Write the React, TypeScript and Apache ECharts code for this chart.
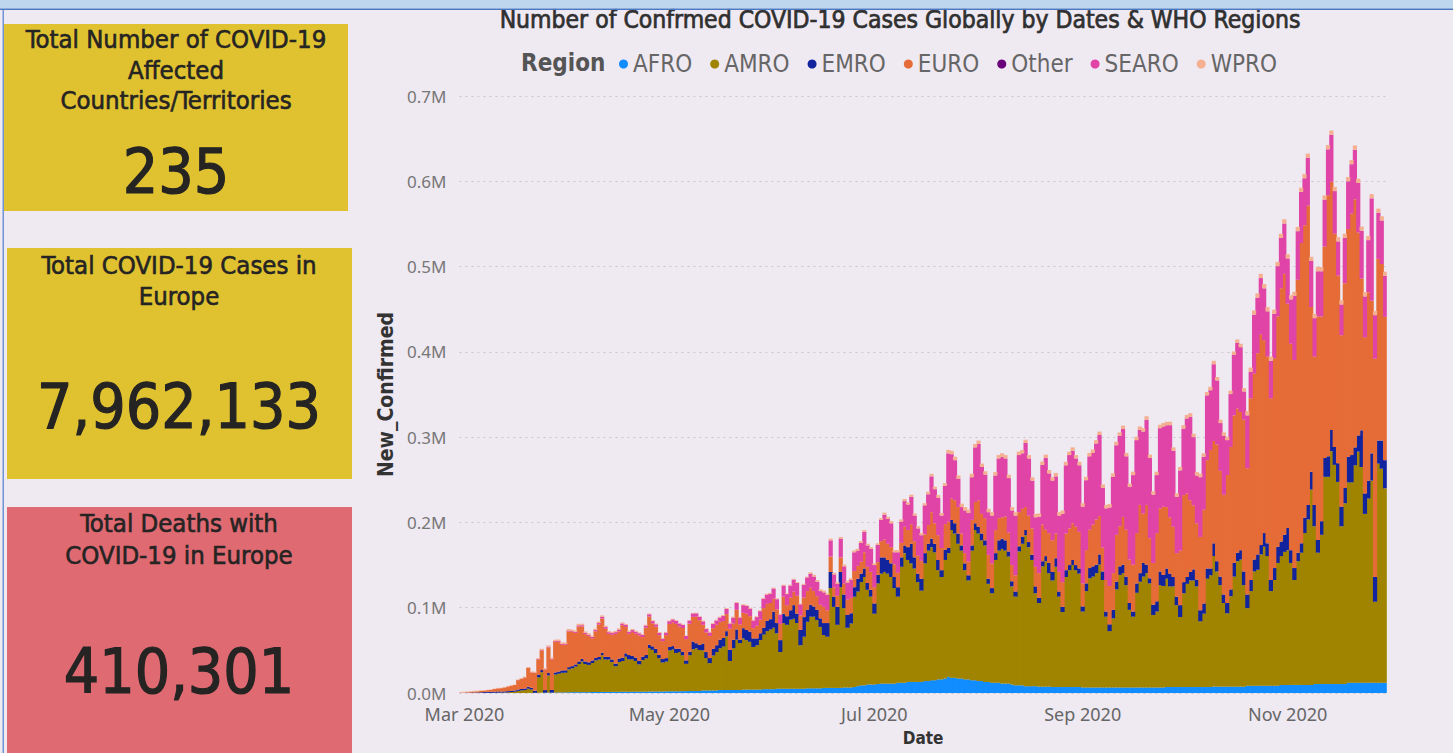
import React, { useEffect, useRef } from 'react';
import * as echarts from 'echarts';

// ---------- categories & ticks ----------
const startDate = '2020-02-29';
const dayCount = 276;
const tickDates = ['2020-03-01', '2020-05-01', '2020-07-01', '2020-09-01', '2020-11-01'];
const tickLabels = ['Mar 2020', 'May 2020', 'Jul 2020', 'Sep 2020', 'Nov 2020'];

const regions = ['AFRO', 'AMRO', 'EMRO', 'EURO', 'Other', 'SEARO', 'WPRO'];
const regionColors = ['#118DFF', '#A08400', '#12239E', '#E66C37', '#6B007B', '#E044A7', '#F4B090'];

// ---------- daily new confirmed cases, thousands ----------
const afro = [
  0, 0, 0, 0, 0, 0, 0, 0, 0, 0, 0, 0, 0, 0, 0, 0, 0, 0, 0, 0,
  0.1, 0.1, 0.2, 0.3, 0.4, 0.4, 0.5, 0.5, 0.6, 0.6, 0.7, 0.8, 0.8, 1, 1, 1, 1, 1, 1, 1.2,
  1.2, 1.2, 1.3, 1.3, 1.3, 1.3, 1.4, 1.4, 1.5, 1.5, 1.5, 1.5, 1.5, 1.6, 1.6, 1.6, 1.7, 1.7, 1.8, 1.8,
  1.8, 1.9, 2, 2, 2, 2, 2.2, 2.2, 2.3, 2.3, 2.4, 2.4, 3,
  3, 3, 3, 3, 3.5, 3.5, 3.5, 3.5, 3.5, 3.5, 3.5, 4, 4, 4, 4, 4, 4, 4.5, 4.5, 4.5,
  4.5, 5, 5, 5, 5, 5, 5, 5, 5, 5, 5.5, 5.5, 5.5, 5.5, 5.5, 6, 6, 6, 6, 6,
  6, 6.5, 6.5, 6.5, 7, 8, 9, 9, 10, 10, 10, 10.5, 11, 11, 11, 11, 11, 12, 12, 12,
  13, 13, 13, 13, 13, 14, 14, 15, 15, 16, 16, 17,
  19, 18, 18, 17, 17, 16, 16, 15, 15, 14, 14, 13, 13, 12, 12, 12, 11, 11, 11, 10,
  9, 9, 9, 8, 8, 8, 8, 7.5, 7.5, 7.5, 7.5, 7, 7, 7, 7, 7, 7, 7, 7, 7,
  6.5, 6.5, 6.5, 6.5, 6.5, 6.5, 6.5, 6.5, 6.5, 6.5, 6.5, 6.5, 6.5, 6.5, 6.5, 6.5, 6.5, 6.5, 6.5, 6.5,
  6.5, 6.5, 6.5, 6.5, 6.5, 7, 7, 7, 7,
  7, 7, 7, 7, 7, 7, 7, 7, 7, 7, 7.5, 7.5, 7.5, 7.5, 7.5, 7.5, 7.5, 7.5, 7.5, 7.5,
  8.5, 8.5, 8.5, 8.5, 8.5, 8.5, 8.5, 8.5, 8.5, 8.5, 9.5, 9.5, 9.5, 9.5, 9.5, 9.5, 9.5, 9.5, 9.5, 9.5,
  10.5, 10.5, 10.5, 10.5, 10.5, 10.5, 10.5, 10.5, 10.5, 10.5, 12, 12, 12, 12, 12, 12, 12, 12, 12, 12,
  12, 12,
];

const amro = [
  0, 0, 0, 0, 0, 0.1, 0.1, 0.1, 0.2, 0.2, 0.3, 0.4, 0.5, 0.6, 0.8, 1.2, 1.5,
  2.5, 3, 3.5, 5, 4, 0, 18, 24, 0, 20, 0, 21, 22, 23, 23, 27, 28, 30, 33, 36, 33, 32, 34,
  37, 38, 43, 38, 38, 35, 30, 35, 36, 41, 38, 38, 36, 32, 37, 39, 51, 49, 45, 39,
  34, 35, 48, 49, 45, 46, 42, 32, 42, 49, 50, 48, 47,
  38, 32, 41, 45, 49, 51, 63, 34, 49, 59, 55, 60, 58, 56, 50, 52, 58, 64, 68, 70,
  72, 65, 43, 77, 75, 81, 82, 77, 51, 61, 78, 84, 84, 80, 72, 62, 60, 117, 95, 74,
  118, 93, 70, 75, 106, 111, 121, 127, 111, 103, 83, 118, 129, 131, 129, 125, 112, 101, 136, 152,
  143, 139, 133, 117, 107, 138, 153, 156, 150, 128, 120, 139,
  145, 173, 169, 158, 150, 128, 116, 152, 176, 173, 165, 160, 115, 105, 144, 155, 158, 156, 149, 115,
  104, 157, 166, 177, 163, 148, 109, 98, 141, 147, 133, 125, 141, 106, 88, 129, 137, 143, 137, 133,
  89, 113, 128, 130, 134, 144, 126, 83, 66, 81, 115, 132, 134, 120, 91, 83, 111, 124, 130, 134,
  122, 85, 89, 120, 119, 127, 118, 118, 96,
  82, 110, 121, 125, 125, 118, 77, 86, 127, 131, 153, 135, 119, 98, 86, 106, 129, 147, 149, 119,
  91, 111, 134, 136, 154, 163, 152, 111, 124, 144, 151, 156, 158, 143, 123, 145, 155, 178, 194, 229,
  185, 154, 175, 243, 243, 273, 257, 237, 185, 212, 235, 235, 255, 271, 253, 198, 216, 237, 95, 257,
  251, 228,
];

const emro = [
  0.1, 0.2, 0.3, 0.4, 0.6, 0.6, 0.8, 1.0, 1.2, 1.1, 1.2, 1.4, 1.2, 1.3, 1.4, 1.4, 1.5,
  1.6, 1.7, 1.8, 2.2, 2, 2.5, 3, 2.5, 3, 3, 3, 2.5, 2.5, 2.8, 2.8, 2.5, 2.5, 2.5, 3, 3, 3, 3, 3,
  3, 3, 3, 3, 3, 3, 3, 4, 4, 4, 5, 4, 4, 4, 4, 4, 4, 4, 5, 4,
  4, 4, 4, 4, 5, 4, 4, 4, 4, 9, 6, 6, 8,
  7, 6, 8, 8, 10, 10, 6, 13, 10, 12, 4, 12, 12, 12, 10, 8, 8, 8, 12, 12,
  19, 12, 14, 11, 10, 11, 16, 11, 18, 23, 14, 14, 12, 12, 10, 14, 16, 19, 12, 21,
  18, 16, 15, 12, 11, 15, 10, 10, 8, 8, 12, 10, 19, 17, 16, 16, 13, 11, 11, 9,
  15, 23, 13, 10, 14, 12, 8, 10, 10, 12, 8, 12,
  6, 12, 12, 12, 6, 8, 6, 6, 8, 8, 8, 6, 6, 6, 8, 12, 12, 12, 6, 6,
  6, 6, 8, 6, 6, 6, 8, 6, 6, 6, 12, 10, 10, 6, 6, 8, 6, 6, 6, 6,
  6, 9, 12, 12, 10, 12, 10, 6, 8, 10, 9, 10, 10, 10, 8, 6, 11, 10, 16, 10,
  6, 12, 12, 16, 13, 12, 15, 11, 10,
  14, 13, 8, 10, 13, 8, 13, 12, 12, 8, 15, 12, 10, 10, 12, 8, 16, 10, 11, 16,
  16, 13, 14, 18, 11, 16, 15, 13, 14, 19, 17, 20, 26, 15, 14, 10, 11, 18, 17, 21,
  25, 15, 16, 22, 24, 25, 21, 22, 23, 18, 30, 32, 21, 19, 43, 24, 21, 32, 29, 27,
  33, 33,
];

const euro = [
  0.2, 0.3, 0.6, 0.9, 1.1, 1.3, 1.5, 1.7, 2.0, 2.4, 3.2, 3.6, 4.0, 4.6, 5.4, 6.0, 6.4,
  11, 12, 13, 22, 18, 21, 18, 23, 24, 30, 36, 36, 35, 30, 30, 42, 40, 37, 41, 38, 32, 31, 26,
  31, 38, 40, 33, 27, 29, 35, 32, 38, 31, 25, 28, 28, 30, 23, 32, 33, 27, 26, 23,
  21, 27, 27, 28, 29, 26, 28, 25, 33, 29, 31, 29, 22,
  23, 26, 24, 24, 21, 20, 20, 25, 19, 23, 18, 18, 19, 18, 12, 15, 16, 23, 20, 19,
  15, 16, 19, 20, 13, 15, 16, 21, 17, 23, 22, 20, 18, 16, 16, 19, 15, 18, 11, 13,
  17, 13, 18, 18, 19, 15, 14, 19, 19, 21, 19, 15, 19, 21, 19, 19, 15, 17, 17, 22,
  20, 23, 19, 21, 21, 22, 22, 31, 24, 29, 26, 30,
  31, 25, 27, 31, 14, 12, 16, 30, 25, 31, 23, 26, 28, 29, 27, 26, 25, 28, 22, 19,
  19, 40, 33, 27, 31, 31, 23, 29, 43, 31, 35, 37, 29, 23, 29, 43, 43, 43, 45, 43,
  27, 39, 45, 49, 53, 45, 28, 37, 45, 43, 55, 47, 56, 55, 51, 55, 59, 80, 58, 70,
  47, 49, 80, 74, 80, 72, 66, 59, 51,
  64, 102, 98, 84, 75, 66, 86, 110, 127, 139, 120, 137, 124, 117, 150, 167, 173, 169, 162, 178,
  148, 213, 218, 236, 247, 226, 219, 213, 246, 270, 297, 306, 263, 242, 244, 320, 352, 343, 351, 193,
  174, 262, 240, 248, 306, 291, 250, 220, 201, 240, 267, 283, 291, 238, 178, 183, 221, 179, 256, 213,
  207, 168,
];

const other: number[] = [];

const searo = [
  0, 0, 0, 0, 0, 0, 0, 0, 0, 0, 0, 0, 0, 0, 0, 0, 0,
  0.1, 0.1, 0.1, 0.2, 0.2, 0.3, 0.5, 0.5, 0.5, 0.8, 0.8, 0.8, 1, 1, 1, 1, 1, 1.2, 1.3, 1.5, 1.5, 1.4, 1.5,
  1.6, 1.8, 2, 2, 2, 2, 2, 2, 2, 2.2, 2.2, 2.3, 2.4, 2.4, 2.5, 2.5, 2.6, 2.6, 2.7, 2.8,
  2.9, 3, 3.2, 3.3, 3.4, 3.5, 3.5, 3.6, 3.7, 4, 4, 4, 4,
  4, 4, 5, 5, 5, 6, 6, 6, 7, 8, 8, 9, 9, 9, 9, 10, 10, 11, 11, 11,
  12, 12, 11, 13, 13, 14, 14, 15, 13, 15, 16, 16, 17, 17, 16, 17, 18, 19, 15, 14,
  22, 20, 20, 21, 22, 18, 22, 24, 25, 27, 26, 20, 25, 29, 29, 28, 14, 24, 25, 30,
  30, 32, 30, 32, 30, 34, 36, 42, 40, 44, 38, 45,
  80, 52, 47, 33, 31, 50, 57, 50, 64, 66, 55, 51, 50, 56, 64, 70, 71, 68, 64, 64,
  70, 67, 65, 75, 67, 56, 58, 66, 70, 84, 70, 70, 67, 66, 80, 80, 86, 85, 80, 78,
  90, 82, 86, 84, 89, 95, 70, 84, 92, 113, 105, 106, 103, 86, 85, 105, 109, 88, 96, 100,
  94, 80, 68, 94, 94, 96, 108, 89, 66,
  94, 78, 88, 98, 80, 56, 70, 62, 76, 70, 90, 75, 56, 69, 41, 62, 71, 77, 76, 33,
  62, 31, 69, 65, 66, 61, 53, 44, 52, 59, 59, 59, 53, 52, 75, 57, 60, 55, 56, 54,
  45, 53, 53, 55, 54, 55, 50, 40, 36, 53, 56, 58, 58, 58, 56, 48, 61, 120, 51, 54,
  51, 48,
];

const wpro = [
  1.0, 1.0, 0.8, 0.8, 0.9, 0.7, 0.6, 0.5, 0.4, 0.4, 0.4, 0.5, 0.4, 0.4, 0.4, 0.5, 0.5,
  0.6, 0.6, 0.8, 0.9, 1, 1, 1.2, 1.5, 1.4, 1.5, 1.5, 1.6, 1.6, 1.7, 1.8, 1.8, 1.8, 1.7, 1.8, 1.7, 1.6, 1.6, 1.5,
  1.6, 1.7, 1.7, 1.5, 1.4, 1.4, 1.4, 1.4, 1.3, 1.3, 1.2, 1.2, 1.1, 1.0, 1.0, 1.0, 1.0, 1.0, 0.9, 0.9,
  0.8, 0.8, 0.8, 0.8, 0.8, 0.7, 0.7, 0.7, 0.7, 0.7, 0.7, 0.6, 1,
  1, 1, 1, 1, 1, 1, 1, 1, 1, 1, 1, 1, 1, 1, 1, 1, 1, 1, 1, 1,
  1, 1, 1, 1, 1, 1, 1, 1, 1, 1, 1, 2, 2, 2, 2, 2, 2, 2, 2, 2,
  2, 2, 2, 2, 2, 2, 2, 2, 2, 2, 2, 2, 2, 2.5, 2.5, 2.5, 2.5, 2.5, 2.5, 2.5,
  2.5, 2.5, 2.5, 2.5, 2.5, 2.5, 3, 3, 3, 3, 3, 3,
  4, 4, 4, 4, 4, 4, 4, 4, 4, 4, 4, 4, 4, 4, 4, 4, 4, 4, 4, 4,
  4, 4, 4, 4, 4, 4, 4, 4, 4, 4, 4, 4, 4, 4, 4, 4, 4, 4, 4, 4,
  4, 4, 4, 4, 4, 4, 4, 4, 4, 4, 4, 4, 4, 4, 4, 4, 4, 4, 4, 4,
  4, 4, 4, 4, 4, 4, 4, 4, 4,
  4, 4, 4, 4, 4, 4, 4, 4, 4, 4, 4, 4, 4, 4, 4, 4, 4, 4, 4, 4,
  5, 5, 5, 5, 5, 5, 5, 5, 5, 5, 5, 5, 5, 5, 5, 5, 5, 5, 5, 5,
  5, 5, 5, 5, 5, 5, 5, 5, 5, 5, 5, 5, 5, 5, 5, 5, 5, 5, 5, 5,
  5, 5,
];

const seriesValues = [afro, amro, emro, euro, other, searo, wpro];

// ---------- KPI cards ----------
const kpiTitles = [
  ['Total Number of COVID-19', 'Affected', 'Countries/Territories'],
  ['Total COVID-19 Cases in', 'Europe'],
  ['Total Deaths with', 'COVID-19 in Europe'],
];
const kpiValues = ['235', '7,962,133', '410,301'];

const COND = '"DejaVu Sans Condensed", "DejaVu Sans", sans-serif';
const UI = '"Noto Sans", "Open Sans", sans-serif';

function buildDates(start: string, n: number): string[] {
  const out: string[] = [];
  const t0 = new Date(start + 'T00:00:00Z').getTime();
  for (let i = 0; i < n; i++) out.push(new Date(t0 + i * 86400000).toISOString().slice(0, 10));
  return out;
}

function txt(text: string, x: number, y: number, size: number, opts: any = {}) {
  const fill = opts.fill ?? '#252423';
  return {
    type: 'text',
    x,
    y,
    z: opts.z ?? 10,
    style: {
      text,
      fill,
      stroke: opts.strokeW ? fill : undefined,
      lineWidth: opts.strokeW ?? 0,
      fontSize: size,
      fontFamily: opts.family ?? COND,
      fontWeight: opts.weight ?? 'normal',
      align: opts.align ?? 'center',
      verticalAlign: 'middle',
      textAlign: opts.align ?? 'center',
      textVerticalAlign: 'middle',
    },
  };
}

export default function App() {
  const ref = useRef<HTMLDivElement>(null);
  useEffect(() => {
    if (!ref.current) return;
    const chart = echarts.init(ref.current, undefined, { renderer: 'svg' });
    const dates = buildDates(startDate, dayCount);

    const graphic: any[] = [
      txt('Number of Confrmed COVID-19 Cases Globally by Dates & WHO Regions', 900, 19, 24.5, { fill: '#303030', strokeW: 0.7 }),
      { type: 'rect', z: 20, shape: { x: 0, y: 0, width: 1453, height: 8.5 }, style: { fill: '#BFD7EE' } },
      { type: 'rect', z: 20, shape: { x: 0, y: 8.5, width: 1453, height: 1.6 }, style: { fill: '#4A78C2' } },
      { type: 'rect', z: 20, shape: { x: 2.5, y: 10, width: 1.5, height: 743 }, style: { fill: '#7094D4' } },
      // cards
      { type: 'rect', z: 5, shape: { x: 4, y: 24, width: 344, height: 187 }, style: { fill: '#E0C231' } },
      { type: 'rect', z: 5, shape: { x: 7, y: 248, width: 345, height: 231 }, style: { fill: '#E0C231' } },
      { type: 'rect', z: 5, shape: { x: 7, y: 507, width: 345, height: 250 }, style: { fill: '#DF6A72' } },
      txt(kpiTitles[0][0], 176, 39, 25.5, { strokeW: 0.6 }),
      txt(kpiTitles[0][1], 176, 70, 25.5, { strokeW: 0.6 }),
      txt(kpiTitles[0][2], 176, 100, 25.5, { strokeW: 0.6 }),
      txt(kpiValues[0], 176, 171, 62, { strokeW: 1.2 }),
      txt(kpiTitles[1][0], 179, 265, 25.5, { strokeW: 0.6 }),
      txt(kpiTitles[1][1], 179, 296, 25.5, { strokeW: 0.6 }),
      txt(kpiValues[1], 179, 406, 62, { strokeW: 1.2 }),
      txt(kpiTitles[2][0], 179, 523, 25.5, { strokeW: 0.6 }),
      txt(kpiTitles[2][1], 179, 555, 25.5, { strokeW: 0.6 }),
      txt(kpiValues[2], 179, 671, 62, { strokeW: 1.2 }),
      txt('Region', 521, 63, 24, { align: 'left', weight: 'bold', fill: '#555555' }),
    ];

    chart.setOption({
      animation: false,
      backgroundColor: '#EFE9F2',
      textStyle: { fontFamily: UI },
      grid: { left: 459.4, top: 96, width: 927.4, height: 597, containLabel: false },
      legend: {
        data: regions,
        left: 614,
        top: 47,
        icon: 'circle',
        itemWidth: 9,
        itemHeight: 9,
        itemGap: 18,
        selectedMode: false,
        textStyle: { fontFamily: COND, fontSize: 24, color: '#666666' },
      },
      xAxis: {
        type: 'category',
        data: dates,
        axisLine: { show: false },
        axisTick: { show: false },
        axisLabel: {
          interval: (_i: number, v: string) => tickDates.indexOf(v) >= 0,
          formatter: (v: string) => tickLabels[tickDates.indexOf(v)] ?? '',
          color: '#666666',
          fontSize: 18,
          lineHeight: 18,
          fontFamily: UI,
          margin: 12,
        },
        name: 'Date',
        nameLocation: 'middle',
        nameGap: 36,
        nameTextStyle: { fontFamily: COND, fontWeight: 'bold', fontSize: 17, color: '#333333' },
      },
      yAxis: {
        type: 'value',
        min: 0,
        max: 700,
        interval: 100,
        axisLine: { show: false },
        axisTick: { show: false },
        axisLabel: {
          formatter: (v: number) => (v / 1000).toFixed(1) + 'M',
          color: '#777777',
          fontSize: 17,
          lineHeight: 16,
          fontFamily: UI,
          margin: 13,
        },
        splitLine: { lineStyle: { type: [2, 4], color: '#C9C5CD', width: 1 } },
        name: 'New_Confirmed',
        nameLocation: 'middle',
        nameRotate: 90,
        nameGap: 62,
        nameTextStyle: { fontFamily: COND, fontWeight: 'bold', fontSize: 21, color: '#333333' },
      },
      series: regions.map((name, k) => ({
        name,
        type: 'bar',
        stack: 'total',
        data: seriesValues[k],
        barWidth: 4.2,
        itemStyle: { color: regionColors[k] },
        emphasis: { disabled: true },
      })),
      graphic,
    });
    return () => chart.dispose();
  }, []);
  return <div ref={ref} style={{ position: 'fixed', left: 0, top: 0, width: 1453, height: 753 }} />;
}
